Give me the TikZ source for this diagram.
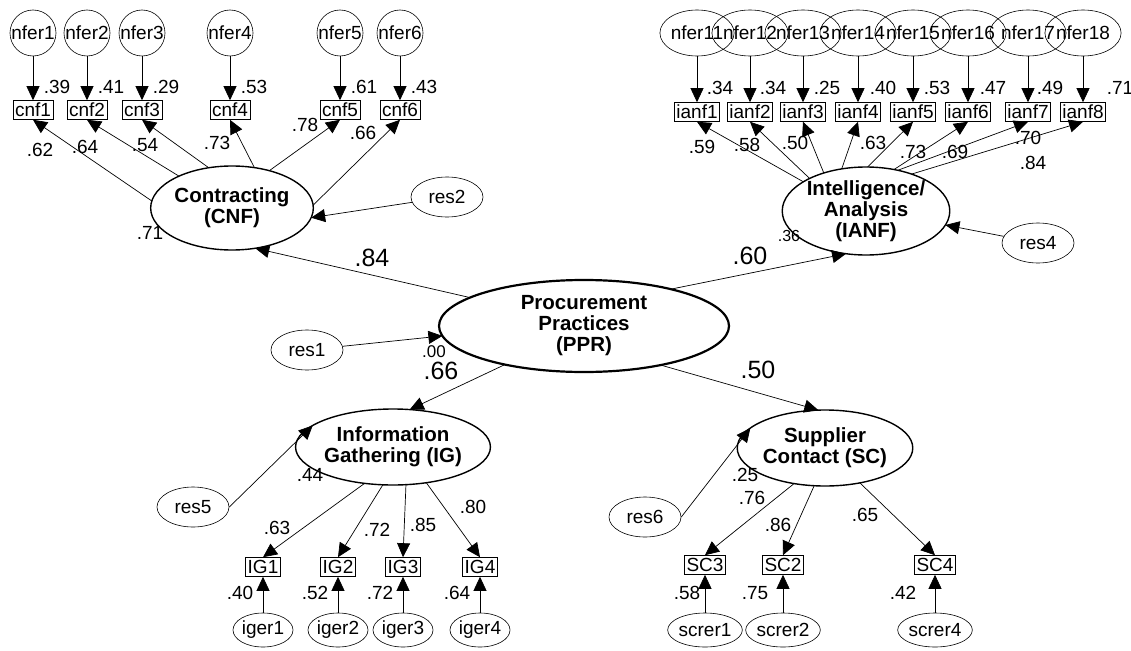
\documentclass[tikz,border=0pt]{standalone}
\usepackage{fontspec}
\setmainfont{Liberation Sans}
\usetikzlibrary{shapes.geometric}
\usetikzlibrary{arrows.meta}
\usetikzlibrary{positioning}

\newcommand{\labfont}{\fontsize{19}{21}\selectfont}
\newcommand{\bigfont}{\fontsize{25}{26}\selectfont}
\newcommand{\facfont}{\bfseries\fontsize{20.5}{21}\selectfont}

\begin{document}
\begin{tikzpicture}[x=1pt, y=-1pt,
    factor/.style={ellipse, draw=black, line width=1.4pt, inner sep=0pt, outer sep=0pt, minimum width=140pt, minimum height=84pt, align=center, font=\facfont},
    errcircle/.style={circle, draw=black, line width=0.6pt, inner sep=0pt, minimum size=46pt, font=\labfont},
    errwide/.style={ellipse, draw=black, line width=0.6pt, inner sep=0pt, minimum width=53pt, minimum height=46pt, font=\labfont},
    errellipse/.style={ellipse, draw=black, line width=0.6pt, inner sep=0pt, minimum width=60pt, minimum height=34pt, font=\labfont},
    resid/.style={ellipse, draw=black, line width=0.6pt, inner sep=0pt, minimum width=72pt, minimum height=40pt, font=\labfont},
    indicator/.style={rectangle, draw=black, line width=0.6pt, inner xsep=2pt, inner ysep=1pt, minimum height=19pt, font=\labfont},
    coef/.style={inner sep=0pt, font=\labfont},
    bigcoef/.style={inner sep=0pt, font=\bigfont},
    regpath/.style={line width=0.7pt, -{Triangle[length=14pt, width=13pt]}}]

  \useasboundingbox (0,0) rectangle (1131,650);

  % Second-order factor and first-order factors
  \node[factor, line width=2.2pt, minimum width=290pt, minimum height=92pt] (PPR) at (584,326) {Procurement\\Practices\\(PPR)};
  \node[factor] (CNF) at (232,208) {Contracting\\(CNF)};
  \node[factor, minimum height=88pt] (IANF) at (866,211) {Intelligence/\\Analysis\\(IANF)};
  \node[factor, minimum height=76pt] (IG) at (393,447) {Information\\Gathering (IG)};
  \node[factor, minimum height=76pt] (SC) at (825,448) {Supplier\\Contact (SC)};

  % Residuals
  \node[resid] (res1) at (307,350) {res1};
  \node[resid] (res2) at (447,197) {res2};
  \node[resid] (res4) at (1038,243) {res4};
  \node[resid] (res5) at (193,507) {res5};
  \node[resid] (res6) at (645,517) {res6};

  \draw[regpath] (res1) -- (PPR.184);
  \draw[regpath] (res2) -- (CNF.-7);
  \draw[regpath] (res4) -- (IANF.-10);
  \draw[regpath] (res5.east) -- (IG.165);
  \draw[regpath] (res6.east) -- (SC.165);

  % Structural paths
  \draw[regpath] (PPR.166) -- (CNF.300);
  \draw[regpath] (PPR.23) -- (IANF.245);
  \draw[regpath] (PPR.206) -- (IG.66);
  \draw[regpath] (PPR.333) -- (SC.100);

  \node[bigcoef] (bcnf) at (372,258) {.84};
  \node[bigcoef] (bianf) at (750,256) {.60};
  \node[bigcoef] (big) at (441,371) {.66};
  \node[bigcoef] (bsc) at (758,370) {.50};
  \node[coef, font=\fontsize{17}{18}\selectfont] (sppr) at (434,352) {.00};
  \node[coef, font=\fontsize{16}{18}\selectfont] (sianf) at (789,236) {.36};
  \node[coef] (scnf) at (150,233) {.71};
  \node[coef] (sig) at (310,475) {.44};
  \node[coef] (ssc) at (745,475) {.25};

  % Contracting indicators
  \foreach \i/\x/\rsq in {1/33/.39, 2/87/.41, 3/142/.29, 4/230/.53, 5/340/.61, 6/400/.43} {
    \node[errcircle] (nfer\i) at (\x,33) {nfer\i};
    \node[indicator] (cnf\i) at (\x,110) {cnf\i};
    \draw[regpath] (nfer\i) -- (cnf\i);
    \node[coef] (rcnf\i) at (\x+24,87) {\rsq};
  }
  \foreach \i/\a/\lx/\ly/\w in {1/175/40/150/.62, 2/149/85/147/.64, 3/120/145/145/.54, 4/61/217/143/.73, 5/45/305/125/.78, 6/2/363/133/.66} {
    \draw[regpath] (CNF.\a) -- (cnf\i.south);
    \node[coef] (lcnf\i) at (\lx,\ly) {\w};
  }

  % Intelligence/Analysis indicators
  \foreach \i/\x/\rsq in {1/697/.34, 2/750/.34, 3/803/.25, 4/858/.40, 5/913/.53, 6/968/.47, 7/1028/.49, 8/1083/.71} {
    \node[errwide] (nfer1\i) at (\x,33) {nfer1\i};
    \node[indicator] (ianf\i) at (\x,112) {ianf\i};
    \draw[regpath] (nfer1\i) -- (ianf\i);
  }
  \foreach \i/\lx/\rsq in {1/720/.34, 2/773/.34, 3/827/.25, 4/883/.40, 5/937/.53, 6/993/.47, 7/1050/.49, 8/1120/.71} {
    \node[coef] (rianf\i) at (\lx,88) {\rsq};
  }
  \foreach \i/\a/\lx/\ly/\w in {1/155/702/147/.59, 2/150/747/145/.58, 3/138/795/143/.50, 4/120/873/143/.63, 5/88/913/152/.73, 6/56/955/152/.69, 7/52/1028/138/.70, 8/39/1033/163/.84} {
    \draw[regpath] (IANF.\a) -- (ianf\i.south);
    \node[coef] (lianf\i) at (\lx,\ly) {\w};
  }

  % Information Gathering indicators
  \foreach \i/\x/\a/\rsq in {1/263/232/.40, 2/338/255/.52, 3/403/289/.72, 4/480/313/.64} {
    \node[indicator] (IG\i) at (\x,567) {IG\i};
    \node[errellipse] (iger\i) at (\x,630) {iger\i};
    \draw[regpath] (iger\i) -- (IG\i);
    \draw[regpath] (IG.\a) -- (IG\i.north);
    \node[coef] (rig\i) at (\x-23,593) {\rsq};
  }
  \foreach \i/\lx/\ly/\w in {1/277/528/.63, 2/377/530/.72, 3/423/525/.85, 4/473/507/.80} {
    \node[coef] (lig\i) at (\lx,\ly) {\w};
  }

  % Supplier Contact indicators
  \foreach \k/\e/\x/\a/\rx/\rsq in {3/1/705/229/687/.58, 2/2/783/254/755/.75, 4/4/935/315/903/.42} {
    \node[indicator] (SC\k) at (\x,565) {SC\k};
    \node[errellipse] (screr\e) at (\x,630) {screr\e};
    \draw[regpath] (screr\e) -- (SC\k);
    \draw[regpath] (SC.\a) -- (SC\k.north);
    \node[coef] (rsc\k) at (\rx,593) {\rsq};
  }
  \foreach \k/\lx/\ly/\w in {3/752/498/.76, 2/778/525/.86, 4/865/515/.65} {
    \node[coef] (lsc\k) at (\lx,\ly) {\w};
  }

\end{tikzpicture}
\end{document}
